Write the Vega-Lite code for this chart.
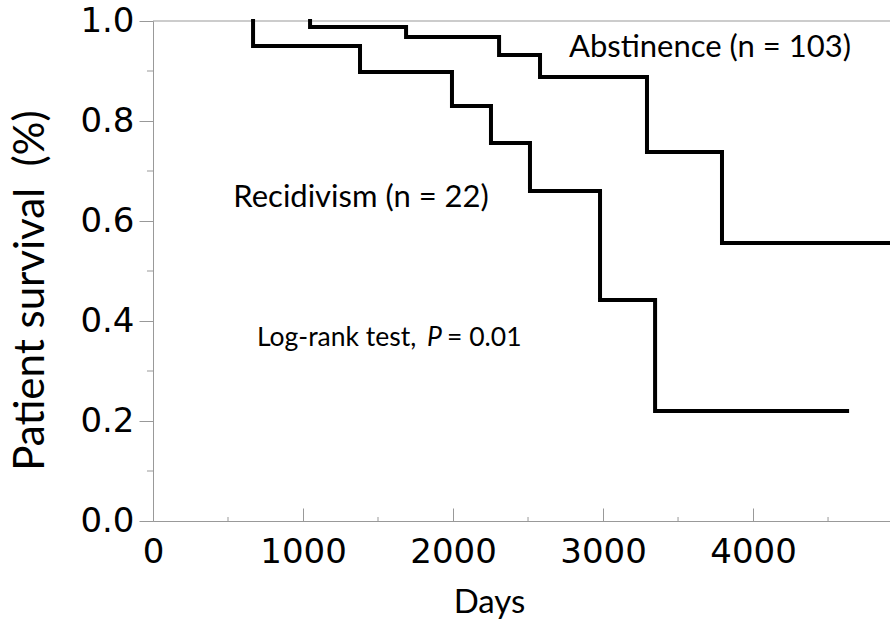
{
  "$schema": "https://vega.github.io/schema/vega-lite/v6.json",
  "width": 737,
  "height": 500,
  "autosize": "none",
  "padding": {"left": 153, "top": 21, "right": 0, "bottom": 100},
  "background": "white",
  "config": {"view": {"stroke": null}},
  "datasets": {
    "km": [
      {"group": "Recidivism", "days": 667, "surv": 1.0},
      {"group": "Recidivism", "days": 667, "surv": 0.95},
      {"group": "Recidivism", "days": 1380, "surv": 0.898},
      {"group": "Recidivism", "days": 1993, "surv": 0.83},
      {"group": "Recidivism", "days": 2253, "surv": 0.756},
      {"group": "Recidivism", "days": 2513, "surv": 0.66},
      {"group": "Recidivism", "days": 2980, "surv": 0.442},
      {"group": "Recidivism", "days": 3347, "surv": 0.22},
      {"group": "Recidivism", "days": 4627, "surv": 0.22},
      {"group": "Abstinence", "days": 1047, "surv": 1.0},
      {"group": "Abstinence", "days": 1047, "surv": 0.988},
      {"group": "Abstinence", "days": 1687, "surv": 0.968},
      {"group": "Abstinence", "days": 2307, "surv": 0.932},
      {"group": "Abstinence", "days": 2580, "surv": 0.888},
      {"group": "Abstinence", "days": 3293, "surv": 0.738},
      {"group": "Abstinence", "days": 3793, "surv": 0.556},
      {"group": "Abstinence", "days": 4913, "surv": 0.556}
    ],
    "yminor": [{"v": 0.1}, {"v": 0.3}, {"v": 0.5}, {"v": 0.7}, {"v": 0.9}],
    "xminor": [{"v": 500}, {"v": 1500}, {"v": 2500}, {"v": 3500}, {"v": 4500}],
    "one": [{"k": 1}]
  },
  "layer": [
    {
      "data": {"name": "one"},
      "mark": {"type": "rule", "color": "#999999", "strokeWidth": 1},
      "encoding": {"y": {"datum": 1, "type": "quantitative"}}
    },
    {
      "data": {"name": "yminor"},
      "mark": {"type": "rule", "color": "#999999", "strokeWidth": 1},
      "encoding": {
        "y": {"field": "v", "type": "quantitative"},
        "x": {"datum": -40, "type": "quantitative"},
        "x2": {"datum": 0}
      }
    },
    {
      "data": {"name": "xminor"},
      "mark": {"type": "rule", "color": "#999999", "strokeWidth": 1},
      "encoding": {
        "x": {"field": "v", "type": "quantitative"},
        "y": {"datum": 0, "type": "quantitative"},
        "y2": {"datum": 0.008}
      }
    },
    {
      "data": {"name": "km"},
      "mark": {"type": "line", "interpolate": "step-after", "color": "black", "strokeWidth": 4, "strokeJoin": "miter", "strokeCap": "square"},
      "encoding": {
        "x": {
          "field": "days", "type": "quantitative",
          "scale": {"domain": [0, 4913], "nice": false, "zero": false},
          "axis": {
            "values": [0, 1000, 2000, 3000, 4000],
            "format": "d",
            "tickSize": -13,
            "tickColor": "#999999",
            "domainColor": "#999999",
            "labelFont": "DejaVu Sans",
            "labelFontSize": 34,
            "labelColor": "black",
            "labelPadding": 27,
            "labelFlush": false,
            "grid": false,
            "title": "Days",
            "titleFont": "Lato",
            "titleFontSize": 33,
            "titleFontWeight": "normal",
            "titleColor": "black",
            "titleX": 336,
            "titleY": 91,
            "titleBaseline": "alphabetic",
            "titleAnchor": "middle"
          }
        },
        "y": {
          "field": "surv", "type": "quantitative",
          "scale": {"domain": [0, 1], "nice": false},
          "axis": {
            "values": [0, 0.2, 0.4, 0.6, 0.8, 1.0],
            "format": ".1f",
            "tickSize": 14,
            "tickColor": "#999999",
            "domainColor": "#999999",
            "labelFont": "DejaVu Sans",
            "labelFontSize": 34,
            "labelColor": "black",
            "labelPadding": 5,
            "labelFlush": false,
            "grid": false,
            "title": "Patient survival\u00a0\u00a0(%)",
            "titleFont": "Lato",
            "titleFontSize": 42,
            "titleFontWeight": "normal",
            "titleColor": "black",
            "titleX": -123,
            "titleY": 269,
            "titleBaseline": "middle",
            "titleAngle": -90,
            "titleAnchor": "middle"
          }
        },
        "detail": {"field": "group"}
      }
    },
    {
      "data": {"name": "one"},
      "mark": {"type": "text", "font": "Lato", "fontSize": 31, "color": "black", "align": "center", "baseline": "alphabetic"},
      "encoding": {"x": {"datum": 3713, "type": "quantitative"}, "y": {"datum": 0.928, "type": "quantitative"}, "text": {"value": "Abstinence (n = 103)"}}
    },
    {
      "data": {"name": "one"},
      "mark": {"type": "text", "font": "Lato", "fontSize": 31, "color": "black", "align": "center", "baseline": "alphabetic"},
      "encoding": {"x": {"datum": 1387, "type": "quantitative"}, "y": {"datum": 0.628, "type": "quantitative"}, "text": {"value": "Recidivism (n = 22)"}}
    },
    {
      "data": {"name": "one"},
      "mark": {"type": "text", "font": "Lato", "fontSize": 26.5, "color": "black", "align": "left", "baseline": "alphabetic"},
      "encoding": {"x": {"datum": 693, "type": "quantitative"}, "y": {"datum": 0.35, "type": "quantitative"}, "text": {"value": "Log-rank test,"}}
    },
    {
      "data": {"name": "one"},
      "mark": {"type": "text", "font": "Lato", "fontSize": 26.5, "fontStyle": "italic", "color": "black", "align": "left", "baseline": "alphabetic"},
      "encoding": {"x": {"datum": 1827, "type": "quantitative"}, "y": {"datum": 0.35, "type": "quantitative"}, "text": {"value": "P"}}
    },
    {
      "data": {"name": "one"},
      "mark": {"type": "text", "font": "Lato", "fontSize": 26.5, "color": "black", "align": "left", "baseline": "alphabetic"},
      "encoding": {"x": {"datum": 1960, "type": "quantitative"}, "y": {"datum": 0.35, "type": "quantitative"}, "text": {"value": "= 0.01"}}
    }
  ]
}
